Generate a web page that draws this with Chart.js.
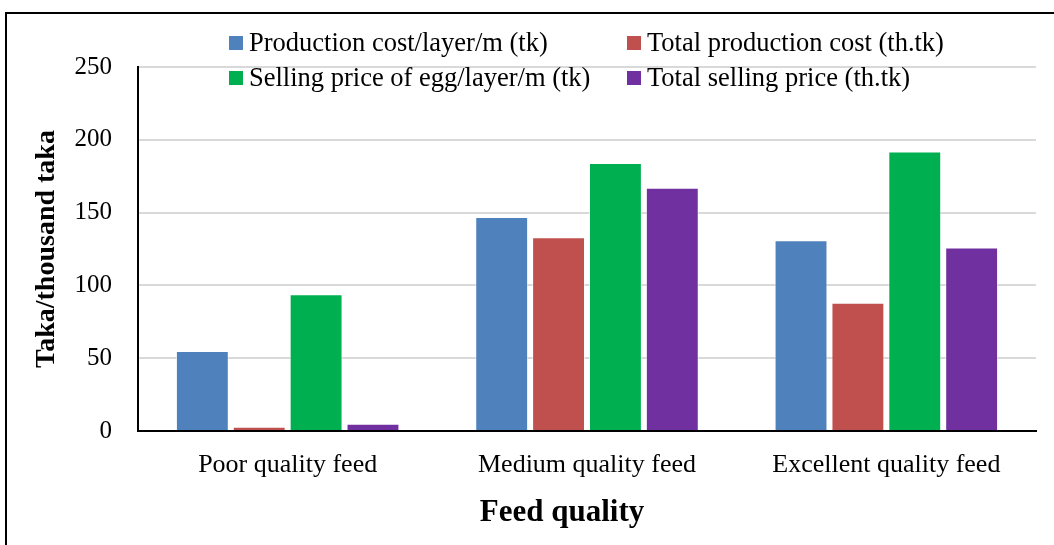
<!DOCTYPE html>
<html>
<head>
<meta charset="utf-8">
<script src="https://cdn.jsdelivr.net/npm/chart.js@4"></script>
<style>
  html, body { margin: 0; padding: 0; background: #fff; }
  #wrap { position: relative; width: 1054px; height: 545px; font-family: "Liberation Serif", "Times New Roman", serif; }
  #frame { position: absolute; left: 5px; top: 12px; right: 0; bottom: 0; border-left: 2px solid #000; border-top: 2px solid #000; pointer-events: none; }
  #legend { position: absolute; left: 229px; top: 25px; display: grid; grid-template-columns: 398px auto; grid-auto-rows: 35px; font-size: 26.5px; color: #000; }
  #legend div { display: flex; align-items: center; white-space: nowrap; }
  #legend span.sw { display: inline-block; width: 14px; height: 14px; margin-right: 6px; }
  #xtitle { position: absolute; left: 362px; width: 400px; top: 493px; text-align: center; font-size: 31px; font-weight: bold; color: #000; }
</style>
</head>
<body>
<div id="wrap">
  <canvas id="c" width="1054" height="545"></canvas>
  <div id="frame"></div>
  <div id="legend"></div>
  <div id="xtitle">Feed quality</div>
</div>
<script>
const categories = ["Poor quality feed", "Medium quality feed", "Excellent quality feed"];
const seriesNames = [
  "Production cost/layer/m (tk)",
  "Total production cost (th.tk)",
  "Selling price of egg/layer/m (tk)",
  "Total selling price (th.tk)"
];
const prodCostPerLayer = [55, 147, 131];
const totalProdCost = [3, 133, 88];
const sellingPricePerLayer = [94, 184, 192];
const totalSellingPrice = [5, 167, 126];
const colors = ["#4F81BD", "#C0504D", "#00B050", "#7030A0"];
const yTicks = [0, 50, 100, 150, 200, 250];

const values = [prodCostPerLayer, totalProdCost, sellingPricePerLayer, totalSellingPrice];

// legend in the original sits as two rows inside the top of the plot
const legendEl = document.getElementById("legend");
seriesNames.forEach((name, i) => {
    const d = document.createElement("div");
    d.innerHTML = '<span class="sw" style="background:' + colors[i] + '"></span>' + name;
    legendEl.appendChild(d);
});

const serif = "'Liberation Serif', 'Times New Roman', serif";

new Chart(document.getElementById("c"), {
    type: "bar",
    data: {
        labels: categories,
        datasets: seriesNames.map((name, i) => ({
            label: name,
            data: values[i],
            backgroundColor: colors[i],
            borderColor: "rgba(255,255,255,0.6)",
            borderWidth: 1,
            barPercentage: 0.93,
            categoryPercentage: 0.76
        }))
    },
    options: {
        responsive: false,
        animation: false,
        layout: { padding: { top: 67, right: 18, bottom: 0, left: 0 } },
        plugins: { legend: { display: false }, tooltip: { enabled: false } },
        scales: {
            x: {
                grid: { display: false, drawTicks: false },
                border: { color: "#000", width: 2 },
                ticks: { color: "#000", font: { family: serif, size: 26 }, padding: 19 },
                afterFit: s => { s.height = 114; }
            },
            y: {
                min: 0,
                max: 250,
                afterBuildTicks: s => { s.ticks = yTicks.map(v => ({ value: v })); },
                grid: { color: "#d9d9d9", lineWidth: 2, drawTicks: false },
                border: { color: "#000", width: 2 },
                ticks: { color: "#000", font: { family: serif, size: 25 }, padding: 26 },
                title: {
                    display: true,
                    text: "Taka/thousand taka",
                    color: "#000",
                    font: { family: serif, size: 28, weight: "bold" },
                    padding: { top: 30, bottom: 0 }
                },
                afterFit: s => { s.width = 138; }
            }
        }
    }
});
</script>
</body>
</html>
